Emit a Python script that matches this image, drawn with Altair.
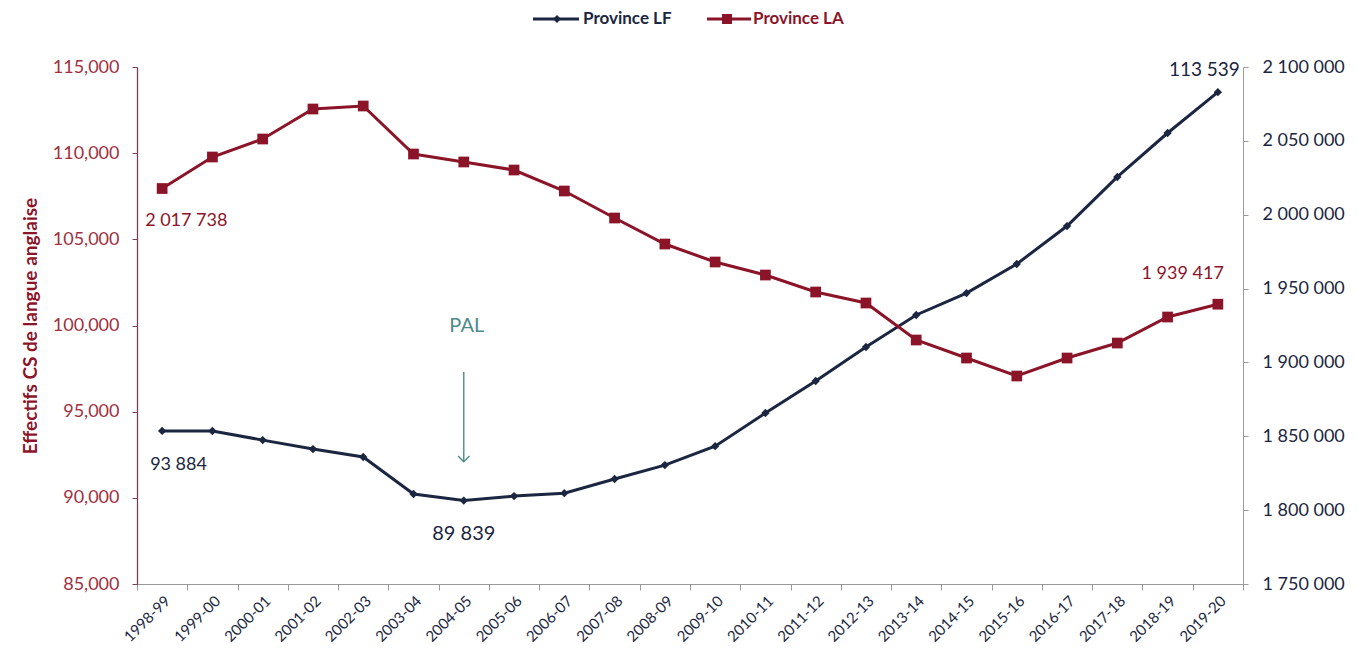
import altair as alt
import pandas as pd

years = ["1998-99", "1999-00", "2000-01", "2001-02", "2002-03", "2003-04", "2004-05",
         "2005-06", "2006-07", "2007-08", "2008-09", "2009-10", "2010-11", "2011-12",
         "2012-13", "2013-14", "2014-15", "2015-16", "2016-17", "2017-18", "2018-19", "2019-20"]
lf_values = [93884, 93880, 93350, 92830, 92370, 90220, 89839, 90100, 90270, 91090, 91900,
             93000, 94920, 96780, 98750, 100610, 101880, 103570, 105770, 108620, 111170, 113539]
la_values = [2017738, 2039070, 2051250, 2071560, 2073600, 2041100, 2035700, 2030260, 2016050,
             1997770, 1980160, 1967980, 1959170, 1947670, 1940220, 1915170, 1902980, 1890800,
             1902980, 1913130, 1930740, 1939417]
left_ticks = [85000, 90000, 95000, 100000, 105000, 110000, 115000]
right_ticks = [1750000, 1800000, 1850000, 1900000, 1950000, 2000000, 2050000, 2100000]
series_names = ["Province LF", "Province LA"]
pal_year = "2004-05"
pal_label = "PAL"
pal_arrow = [97300, 92100]
pal_text_y = 100000

NAVY = "#1b2640"
RED = "#8c1428"
TEAL = "#4e8a8c"
FONT = "Lato"


def fr(n):
    return f"{n:,}".replace(",", " ")


df = pd.DataFrame({"year": years, "LF": lf_values, "LA": la_values})
df["LF_lbl"] = df["LF"].map(fr)
df["LA_lbl"] = df["LA"].map(fr)

pal_df = pd.DataFrame({"year": [pal_year], "top": [pal_arrow[0]], "bottom": [pal_arrow[1]],
                       "ty": [pal_text_y], "label": [pal_label]})

x_axis = alt.Axis(orient="bottom", title=None, labelAngle=-45, labelFont=FONT, labelFontSize=15,
                  labelColor=NAVY, domainColor="#9a9a9a", tickColor="#9a9a9a",
                  tickBand="extent", tickSize=6, labelPadding=3, grid=False)
x_scale = alt.Scale(type="band", paddingInner=0, paddingOuter=0)


def X():
    return alt.X("year:N", sort=years, scale=x_scale, bandPosition=0.5, axis=x_axis)


left_scale = alt.Scale(domain=[85000, 115000], nice=False, zero=False)
right_scale = alt.Scale(domain=[1750000, 2100000], nice=False, zero=False)

left_axis = alt.Axis(orient="left", values=left_ticks, labelExpr="format(datum.value, ',')",
                     title="Effectifs CS de langue anglaise",
                     titleFont=FONT, titleFontSize=19, titleFontWeight="bold", titleColor=RED,
                     titlePadding=12, labelFont=FONT, labelFontSize=18, labelColor="#a0303e",
                     domainColor="#7a3f5a", tickColor="#7a3f5a", tickSize=5, labelPadding=13,
                     domainWidth=1.3, grid=False, zindex=2)
right_axis = alt.Axis(orient="right", values=right_ticks,
                      labelExpr="replace(format(datum.value, ','), /,/g, ' ')",
                      title=None, labelFont=FONT, labelFontSize=18, labelColor=NAVY,
                      domainColor="#9a9a9a", tickColor="#9a9a9a", tickSize=5, labelPadding=14,
                      grid=False)


def YL(field):
    return alt.Y(field, scale=left_scale, axis=left_axis)


def YR(field):
    return alt.Y(field, scale=right_scale, axis=right_axis)


base = alt.Chart(df)

lf_line = base.mark_line(color=NAVY, strokeWidth=3).encode(x=X(), y=YL("LF:Q"))
lf_pts = base.mark_point(shape="diamond", filled=True, color=NAVY, size=70, opacity=1).encode(
    x=X(), y=YL("LF:Q"))


def lf_label(year, dx, dy, align, size):
    return base.transform_filter(alt.datum.year == year).mark_text(
        color=NAVY, font=FONT, fontSize=size, dx=dx, dy=dy, align=align, baseline="middle"
    ).encode(x=X(), y=YL("LF:Q"), text="LF_lbl:N")


arrow = alt.Chart(pal_df).mark_rule(color=TEAL, strokeWidth=1.4).encode(
    x=X(), y=YL("top:Q"), y2="bottom:Q")
arrow_head = alt.Chart(pal_df).mark_point(shape="M-1,-1L0,0L1,-1", filled=False, color=TEAL,
                                          strokeWidth=1.4, size=130, opacity=1).encode(
    x=X(), y=YL("bottom:Q"))
pal_text = alt.Chart(pal_df).mark_text(color=TEAL, font=FONT, fontSize=20, baseline="middle",
                                       dx=3).encode(
    x=X(), y=YL("ty:Q"), text="label:N")

left = alt.layer(lf_line, lf_pts,
                 lf_label("1998-99", -12, 34, "left", 18),
                 lf_label("2004-05", 0, 33, "center", 20),
                 lf_label("2019-20", 22, -22, "right", 19),
                 arrow, arrow_head, pal_text)

la_line = base.mark_line(color=RED, strokeWidth=3).encode(x=X(), y=YR("LA:Q"))
la_pts = base.mark_point(shape="square", filled=True, color=RED, size=115, opacity=1).encode(
    x=X(), y=YR("LA:Q"))


def la_label(year, dx, dy, align):
    return base.transform_filter(alt.datum.year == year).mark_text(
        color=RED, font=FONT, fontSize=18, dx=dx, dy=dy, align=align, baseline="middle"
    ).encode(x=X(), y=YR("LA:Q"), text="LA_lbl:N")


right = alt.layer(la_line, la_pts,
                  la_label("1998-99", -17, 32, "left"),
                  la_label("2019-20", 6, -30, "right"))

one = alt.Data(values=[{}])
LEG_Y = -48
leg = [
    alt.Chart(one).mark_rule(color=NAVY, strokeWidth=3).encode(
        x=alt.value(396), x2=alt.value(442), y=alt.value(LEG_Y)),
    alt.Chart(one).mark_point(shape="diamond", filled=True, color=NAVY, size=65, opacity=1).encode(
        x=alt.value(420), y=alt.value(LEG_Y)),
    alt.Chart(one).mark_text(text=series_names[0], color=NAVY, font=FONT, fontSize=17,
                             fontWeight="bold", align="left", baseline="middle").encode(
        x=alt.value(446), y=alt.value(LEG_Y)),
    alt.Chart(one).mark_rule(color=RED, strokeWidth=3).encode(
        x=alt.value(570), x2=alt.value(614), y=alt.value(LEG_Y)),
    alt.Chart(one).mark_point(shape="square", filled=True, color=RED, size=100, opacity=1).encode(
        x=alt.value(590), y=alt.value(LEG_Y)),
    alt.Chart(one).mark_text(text=series_names[1], color=RED, font=FONT, fontSize=17,
                             fontWeight="bold", align="left", baseline="middle").encode(
        x=alt.value(616), y=alt.value(LEG_Y)),
]

chart = alt.layer(left, right, *leg).resolve_scale(y="independent").properties(
    width=1106, height=517,
    autosize=alt.AutoSizeParams(type="none"),
    padding={"left": 129, "top": 59, "right": 104, "bottom": 64},
    background="white",
).configure_view(stroke=None, strokeWidth=0)

chart.save("out.html", embed_options={"renderer": "svg", "actions": False})
